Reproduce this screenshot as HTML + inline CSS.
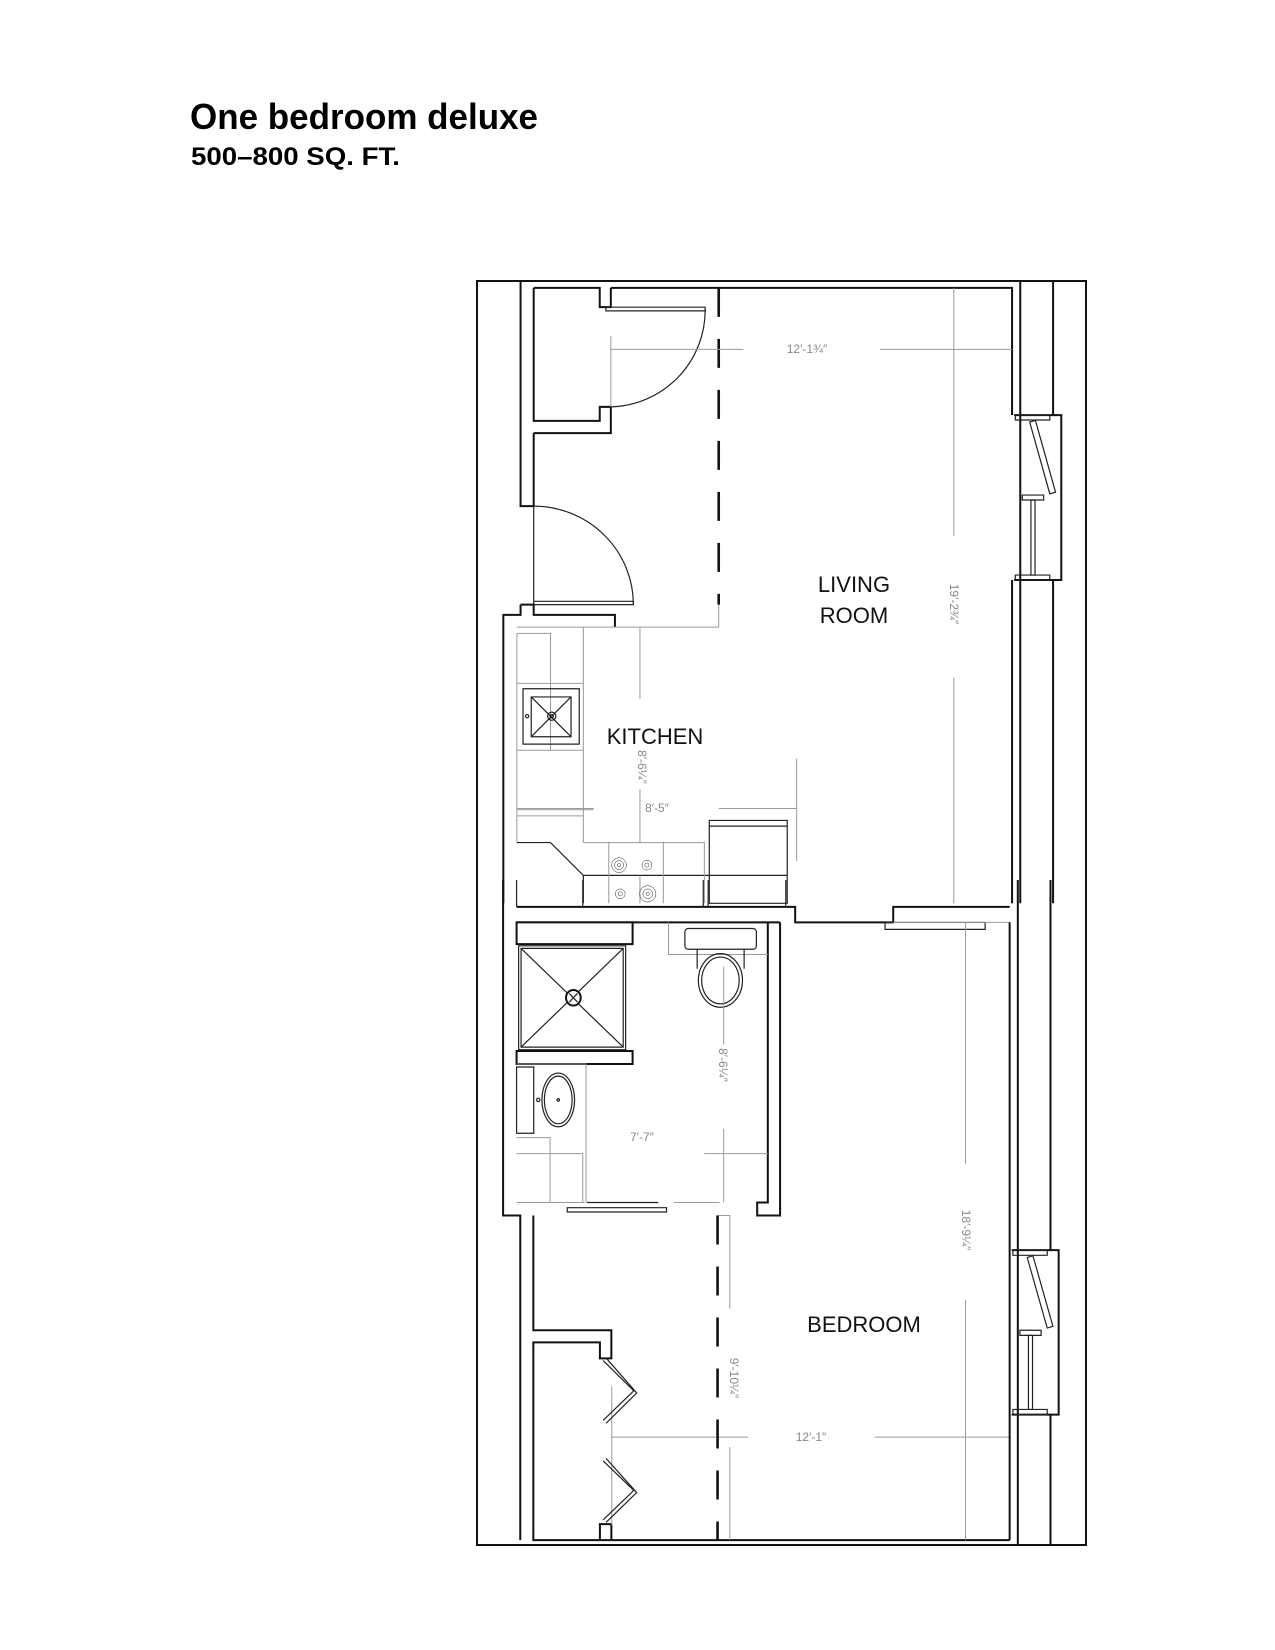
<!DOCTYPE html>
<html><head><meta charset="utf-8">
<style>
html,body{margin:0;padding:0;background:#fff;}
svg{display:block;}
.k{stroke:#111;stroke-width:2;fill:none;vector-effect:non-scaling-stroke;}
.kf{stroke:#111;stroke-width:2;fill:#fff;vector-effect:non-scaling-stroke;}
.t{stroke:#222;stroke-width:1.2;fill:none;vector-effect:non-scaling-stroke;}
.g{stroke:#9a9a9a;stroke-width:1;fill:none;vector-effect:non-scaling-stroke;}
.d{stroke:#111;stroke-width:2.6;fill:none;stroke-dasharray:29 22;vector-effect:non-scaling-stroke;}
.lbl{font-family:"Liberation Sans",sans-serif;font-size:22px;fill:#111;}
.dim{font-family:"Liberation Sans",sans-serif;font-size:12px;fill:#888;}
</style></head>
<body>
<svg width="1275" height="1650" viewBox="0 0 1275 1650" xmlns="http://www.w3.org/2000/svg">
<rect width="1275" height="1650" fill="#fff"/>
<text x="190" y="129" font-family="Liberation Sans, sans-serif" font-weight="bold" font-size="36" textLength="348" lengthAdjust="spacingAndGlyphs" fill="#000">One bedroom deluxe</text>
<text x="191" y="165" font-family="Liberation Sans, sans-serif" font-weight="bold" font-size="25" textLength="209" lengthAdjust="spacingAndGlyphs" fill="#000">500–800 SQ. FT.</text>

<rect x="477" y="281" width="609" height="1264" class="k"/>

<g transform="matrix(0.41026,0,0,0.41026,450,260)">
  <path class="k" d="M172 50 V600 H204 M172 840 V865 H130 V1568"/>
  <path class="k" d="M204 422 V600"/>
  <path class="t" d="M204 600 V832"/>
  <path class="k" d="M392 68 H1370 V345"/>
  <path class="k" d="M204 68 H365 V115 H392 V68"/>
  <path class="k" d="M204 68 V392 H365 V358 H392 V422 H204"/>
  <rect class="t" x="380" y="115" width="242" height="9"/>
  <path class="t" d="M622 120 A236 236 0 0 1 392 358"/>
  <path class="g" d="M392 185 V358"/>
  <rect class="t" x="204" y="832" width="243" height="8"/>
  <path class="t" d="M204 600 A243 240 0 0 1 447 840"/>
  <path class="k" d="M172 840 H204 V865 H402 V895"/>
  <path class="d" d="M655 68 V840"/>
  <path class="g" d="M655 840 V895 H163"/>
  <path class="g" d="M163 910 V1420 M163 910 H245 V1195 M325 895 V1420 M163 1032 H325 M163 1195 H325 M163 1340 H350 M163 1355 H325 M463 895 V1070 M463 1290 V1420"/>
  <rect class="t" x="178" y="1045" width="137" height="135"/>
  <rect class="t" x="198" y="1065" width="97" height="97"/>
  <path class="t" d="M198 1065 L295 1162 M295 1065 L198 1162"/>
  <circle class="t" cx="248" cy="1112" r="10"/><circle class="t" cx="248" cy="1112" r="4"/>
  <circle class="t" cx="188" cy="1112" r="4"/>
  <path class="t" d="M163 1420 H245 L325 1500 H822 M325 1500 V1568"/>
  <path class="g" d="M325 1420 H620 V1568 M387 1418 V1568 M520 1418 V1568 M463 1500 V1568"/>
  <rect class="t" x="632" y="1366" width="190" height="202"/>
  <path class="t" d="M632 1380 H822"/>
  <g class="t">
    <circle cx="412" cy="1475" r="18"/><circle cx="412" cy="1475" r="11"/><circle cx="412" cy="1475" r="4"/>
    <circle cx="480" cy="1475" r="12"/><circle cx="480" cy="1475" r="5"/>
    <circle cx="415" cy="1545" r="12"/><circle cx="415" cy="1545" r="5"/>
    <circle cx="482" cy="1545" r="20"/><circle cx="482" cy="1545" r="12"/><circle cx="482" cy="1545" r="4"/>
  </g>
  <path class="g" d="M655 1337 H845 M845 1215 V1465 M163 1337 H350"/>
  <path class="g" d="M392 218 H715 M1048 218 H1370 M1228 68 V672 M1228 1018 V1568"/>
  <path class="k" d="M1390 50 V1568 M1470 50 V378 M1470 780 V1568 M1370 780 V1568"/>
  <path class="k" d="M1375 378 H1490 V780 H1375"/>
  <path class="k" d="M1370 345 V378"/>
  <rect class="t" x="1378" y="378" width="84" height="12"/>
  <rect class="t" x="1378" y="768" width="84" height="12"/>
  <path class="t" d="M1413 395 L1462 570 L1476 566 L1427 391 Z"/>
  <rect class="t" x="1395" y="573" width="52" height="12"/>
  <rect class="t" x="1416" y="585" width="10" height="183"/>
</g>

<g transform="matrix(0.4085,0,0,0.4329,450,880)">
  <path class="k" d="M130 0 V775 H172 V1525 M204 775 V1040 H395 V1105 H367 V1068 H204 V1525 H1370 M367 1525 V1488 H395 V1525"/>
  <path class="k" d="M163 62 H845 V98 H1085 V62 H1370 M808 98 V775 H752 V745 H778 V98 M163 98 H808"/>
  <rect class="t" x="1065" y="98" width="245" height="16"/>
  <path class="g" d="M1085 98 H1370"/>
  <path class="t" d="M163 62 V0 M822 62 V0 M620 62 V0 M632 62 V0 M325 62 V0"/>
  <rect class="kf" x="163" y="98" width="284" height="50"/>
  <rect class="t" x="168" y="152" width="262" height="240"/>
  <rect class="t" x="174" y="158" width="250" height="228"/>
  <path class="t" d="M174 158 L424 386 M424 158 L174 386"/>
  <circle class="kf" cx="302" cy="272" r="18"/>
  <path class="t" d="M292 262 L312 282 M312 262 L292 282"/>
  <rect class="kf" x="163" y="395" width="284" height="30"/>
  <path class="g" d="M535 98 V172 H778"/>
  <rect class="t" x="575" y="112" width="175" height="48" rx="8"/>
  <path class="t" d="M605 160 V205 M720 160 V205"/>
  <ellipse class="t" cx="662" cy="232" rx="54" ry="62"/>
  <ellipse class="t" cx="662" cy="232" rx="46" ry="54"/>
  <path class="g" d="M163 425 H333 V745 M163 595 H245 V745 M163 632 H325 V745 M163 745 H330"/>
  <rect class="t" x="163" y="432" width="42" height="153"/>
  <ellipse class="t" cx="265" cy="508" rx="40" ry="62"/>
  <ellipse class="t" cx="265" cy="508" rx="34" ry="55"/>
  <circle class="t" cx="265" cy="508" r="3"/><circle class="t" cx="216" cy="508" r="4"/>
  <path class="t" d="M335 745 H510"/>
  <rect class="t" x="287" y="757" width="243" height="10"/>
  <path class="g" d="M548 745 H660 M670 575 V745 M622 632 H778 M670 380 V200 M655 775 H685 V990 M685 1310 V1525 M396 1170 V1490 M396 1287 H730 M1040 1287 H1370 M1262 98 V655 M1262 970 V1525"/>
  <path class="d" d="M655 775 V1525"/>
  <path class="t" d="M375 1110 L450 1180 L375 1248 M382 1104 L457 1185 L382 1255"/>
  <path class="t" d="M375 1342 L450 1410 L375 1478 M382 1336 L457 1415 L382 1484"/>
  <path class="k" d="M1370 98 V1525 M1390 0 V1535 M1470 0 V855 M1470 1235 V1535"/>
  <path class="k" d="M1375 855 H1490 V1235 H1375"/>
  <rect class="t" x="1378" y="855" width="84" height="12"/>
  <rect class="t" x="1378" y="1223" width="84" height="12"/>
  <path class="t" d="M1413 872 L1462 1035 L1476 1031 L1427 868 Z"/>
  <rect class="t" x="1395" y="1040" width="52" height="12"/>
  <rect class="t" x="1416" y="1052" width="10" height="171"/>
</g>

<text class="lbl" x="854" y="592" text-anchor="middle">LIVING</text>
<text class="lbl" x="854" y="623" text-anchor="middle">ROOM</text>
<text class="lbl" x="655" y="744" text-anchor="middle">KITCHEN</text>
<text class="lbl" x="864" y="1332" text-anchor="middle">BEDROOM</text>

<text class="dim" x="807" y="353" text-anchor="middle">12′-1¾″</text>
<text class="dim" x="657" y="812" text-anchor="middle">8′-5″</text>
<text class="dim" x="642" y="1141" text-anchor="middle">7′-7″</text>
<text class="dim" x="811" y="1441" text-anchor="middle">12′-1″</text>
<text class="dim" transform="translate(950,604) rotate(90)" text-anchor="middle">19′-2¾″</text>
<text class="dim" transform="translate(638,767) rotate(90)" text-anchor="middle">8′-6¼″</text>
<text class="dim" transform="translate(719,1065) rotate(90)" text-anchor="middle">8′-6¼″</text>
<text class="dim" transform="translate(962,1230) rotate(90)" text-anchor="middle">18′-9¼″</text>
<text class="dim" transform="translate(730,1378) rotate(90)" text-anchor="middle">9′-10¼″</text>
</svg>
</body></html>
